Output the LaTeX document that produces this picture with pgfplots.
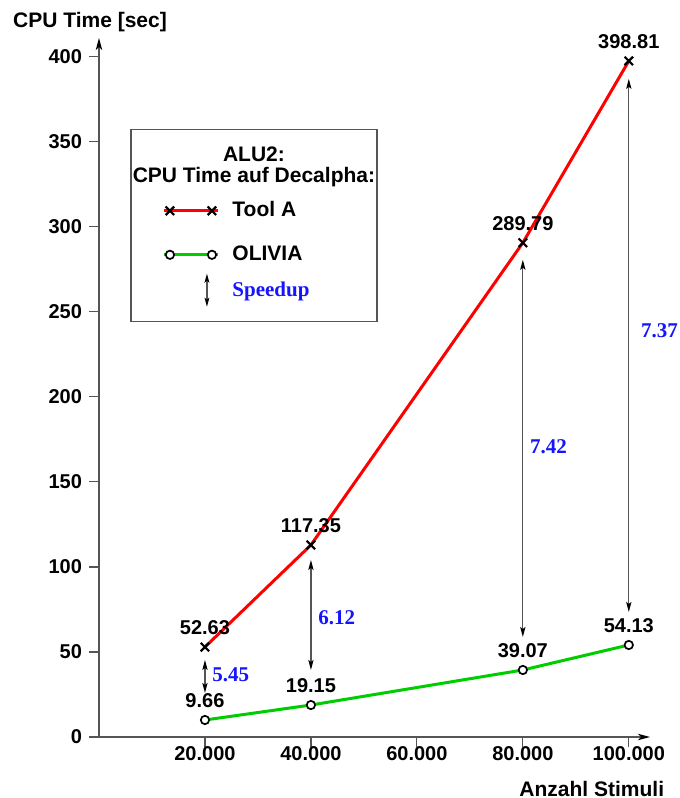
\documentclass[border=0pt]{standalone}
\usepackage{fontspec}
\setmainfont{Liberation Sans}
\newfontfamily\serifB{Liberation Serif}[UprightFont={* Bold}, BoldFont={* Bold}]
\usepackage{pgfplots}
\pgfplotsset{compat=1.18}
\usetikzlibrary{arrows.meta}
\definecolor{myred}{RGB}{255,0,0}
\definecolor{mygreen}{RGB}{0,205,0}
\definecolor{myblue}{RGB}{20,20,255}
\definecolor{axgray}{RGB}{85,85,85}
\pgfplotsset{
  toolAimg/.style={legend image code/.code={\path[draw=none,fill=none] (0pt,-8.7pt) -- (0pt,0pt); \draw[mark indices={2,3},##1] plot coordinates {(-3pt,0pt) (0pt,0pt) (21pt,0pt) (24pt,0pt)};}},
}
\begin{document}
\begin{tikzpicture}
\useasboundingbox (-49.5pt,-30.5pt) rectangle (290.5pt,368.5pt);
\begin{axis}[
  at={(0,0)}, anchor=south west,
  scale only axis, width=275.5pt, height=349.5pt,
  xmin=0, xmax=104000, ymin=0, ymax=411,
  axis lines=left,
  axis line style={draw=axgray, line width=0.6pt, -{Stealth[length=6pt,width=3.2pt,inset=1.5pt,color=black]}},
  xtick={20000,40000,60000,80000,100000},
  xticklabels={20.000,40.000,60.000,80.000,100.000},
  scaled x ticks=false,
  ytick={0,50,100,150,200,250,300,350,400},
  tick align=outside, major tick length=5pt,
  tick style={draw=axgray, line width=0.6pt},
  /pgf/number format/assume math mode=true,
  ticklabel style={font=\bfseries\fontsize{10}{12}\selectfont},
  xticklabel style={yshift=4pt},
  clip=false,
  legend style={at={(axis cs:11900,315)}, anchor=north west, draw=none, fill=none,
    font=\bfseries\fontsize{10.5}{12}\selectfont, inner sep=0pt,
    nodes={inner sep=0pt}, row sep=8.9pt, column sep=6.5pt},
  legend cell align=left,
  legend image code/.code={\draw[mark indices={2,3},#1] plot coordinates {(-3pt,0pt) (0pt,0pt) (21pt,0pt) (24pt,0pt)};},
]
\addplot[myred, line width=1.5pt, mark=x, mark size=3pt, mark options={draw=black, line width=1.1pt}, toolAimg]
  coordinates {(20000,52.9) (40000,112.9) (80000,290.6) (100000,397.5)};
\addlegendentry{Tool A}
\addplot[mygreen, line width=1.5pt, mark=*, mark size=2.1pt, mark options={draw=black, fill=white, line width=0.85pt}]
  coordinates {(20000,10.0) (40000,18.8) (80000,39.4) (100000,54.1)};
\addlegendentry{OLIVIA}
\addlegendimage{legend image code/.code={\path[draw=none,fill=none] (-3pt,0pt) -- (24pt,0pt); \draw[overlay, axgray, line width=0.6pt, {Stealth[length=4.5pt,width=2.4pt,inset=1pt,color=black]}-{Stealth[length=4.5pt,width=2.4pt,inset=1pt,color=black]}] (18.5pt,-8.25pt) -- (18.5pt,8.25pt);}}
\addlegendentry{\serifB\color{myblue}Speedup}
% speedup arrows
\addplot[axgray, line width=0.6pt, forget plot, {Stealth[length=5pt,width=2.6pt,inset=1pt,color=black]}-{Stealth[length=5pt,width=2.6pt,inset=1pt,color=black]}] coordinates {(20000,45.3) (20000,25.9)};
\addplot[axgray, line width=0.6pt, forget plot, {Stealth[length=5pt,width=2.6pt,inset=1pt,color=black]}-{Stealth[length=5pt,width=2.6pt,inset=1pt,color=black]}] coordinates {(40000,104.1) (40000,39.4)};
\addplot[axgray, line width=0.6pt, forget plot, {Stealth[length=5pt,width=2.6pt,inset=1pt,color=black]}-{Stealth[length=5pt,width=2.6pt,inset=1pt,color=black]}] coordinates {(80000,280.6) (80000,58.8)};
\addplot[axgray, line width=0.6pt, forget plot, {Stealth[length=5pt,width=2.6pt,inset=1pt,color=black]}-{Stealth[length=5pt,width=2.6pt,inset=1pt,color=black]}] coordinates {(100000,387) (100000,73.5)};
% value labels
\begin{scope}[every node/.style={font=\bfseries\fontsize{10}{12}\selectfont, inner sep=0pt, anchor=south, yshift=6pt}]
\node at (axis cs:20000,52.9) {52.63};
\node at (axis cs:40000,112.9) {117.35};
\node at (axis cs:80000,290.6) {289.79};
\node at (axis cs:100000,397.5) {398.81};
\node at (axis cs:20000,10.0) {9.66};
\node at (axis cs:40000,18.8) {19.15};
\node at (axis cs:80000,39.4) {39.07};
\node at (axis cs:100000,54.1) {54.13};
\end{scope}
\begin{scope}[every node/.style={font=\serifB\fontsize{10.5}{12}\selectfont, text=myblue, inner sep=0pt, anchor=west}]
\node at (axis cs:21321,36.5) {5.45};
\node at (axis cs:41321,70) {6.12};
\node at (axis cs:81321,170.6) {7.42};
\node at (axis cs:102264,238.8) {7.37};
\end{scope}
% axis titles
\node[font=\bfseries\fontsize{10.5}{12}\selectfont, inner sep=0pt] at (axis cs:-1700,420.6) {CPU Time [sec]};
\node[font=\bfseries\fontsize{10.5}{12}\selectfont, inner sep=0pt] at (axis cs:93019,-30.6) {Anzahl Stimuli};
% legend frame and title
\draw[axgray, line width=0.6pt] (axis cs:6038,244.1) rectangle (axis cs:52453,357.1);
\node[font=\bfseries\fontsize{10.5}{10.5}\selectfont, align=center, inner sep=0pt] at (axis cs:29245,335) {ALU2:\\CPU Time auf Decalpha:};
\end{axis}
\end{tikzpicture}
\end{document}
